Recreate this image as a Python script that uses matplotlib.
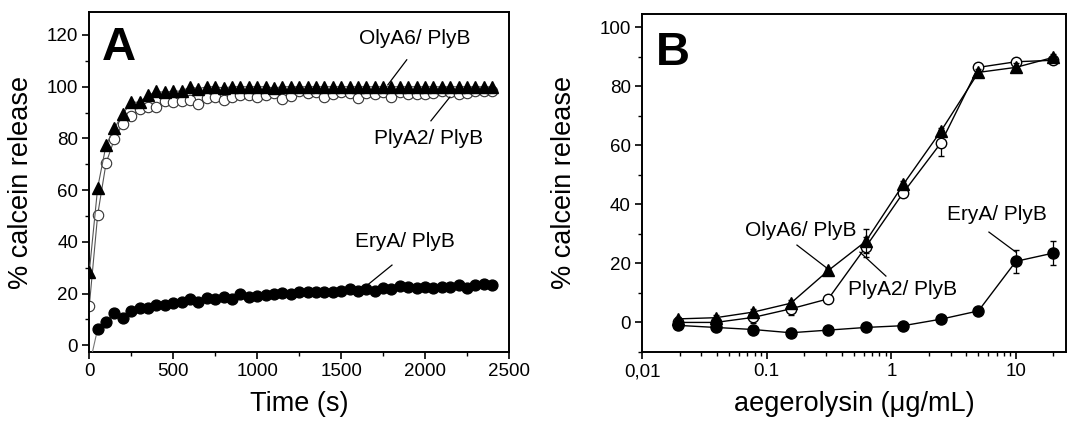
import matplotlib.pyplot as plt
import numpy as np

plt.rcParams['font.family'] = ['Liberation Sans', 'DejaVu Sans']

# ---- panel A: kinetics ----
time_s = list(range(0, 2401, 50))

olya6_t = [28.4, 61, 77.4, 84, 89.5, 94, 94, 96.6, 98.2, 97.8, 98.4, 98.2, 100, 99.2,
           100, 100, 99.5, 100, 100, 100, 100, 100, 99.5, 100, 100, 100, 100, 100,
           100, 100, 100, 100, 100, 100, 100, 100, 100, 100, 100, 100, 100, 100,
           100, 100, 100, 100, 100, 100, 100]
plya2_t = [15.2, 50.5, 70.5, 79.8, 85.7, 88.5, 91.3, 92, 92.3, 94.3, 94, 94.3, 95, 93.3,
           95.6, 96, 94.7, 96, 96.9, 96.9, 96, 96.9, 97.5, 95.2, 96.5, 98.2, 97.5, 97.8,
           96.2, 97.3, 97.8, 97.5, 95.8, 97.5, 97.3, 97.9, 96.2, 97.9, 97.3, 97.3, 97.3,
           97.5, 98.3, 97.8, 97.3, 97.5, 98.2, 98.2, 98.2]
erya_t = [-8, 6.4, 9, 12.3, 10.6, 13.2, 14.3, 14.3, 15.6, 15.6, 16.5, 16.9, 17.8, 16.9,
          18.2, 17.8, 18.7, 17.8, 19.7, 18.7, 19.1, 19.5, 19.7, 20.1, 19.7, 20.4, 20.6,
          20.6, 20.4, 20.4, 20.8, 21.7, 21, 21.7, 21, 22, 21.7, 23, 22.6, 22, 22.6, 22.3,
          22.7, 22.6, 23.3, 22.3, 23.3, 23.6, 23.2]

# ---- panel B: dose response ----
conc = [0.0195, 0.039, 0.078, 0.156, 0.3125, 0.625, 1.25, 2.5, 5, 10, 20]
olya6_c = [1.2, 1.6, 3.5, 6.5, 17.6, 27.5, 46.8, 64.8, 84.7, 86.4, 89.8]
olya6_err = [0.8, 0.8, 1, 1, 1, 4, 1, 1, 1, 1.5, 1]
plya2_c = [0, 0, 1.7, 4.6, 8, 25.6, 44, 60.8, 86.4, 88.3, 88.8]
plya2_err = [0.8, 0.8, 2, 2, 0.8, 3.5, 1.5, 4.5, 1, 1, 1]
erya_c = [-1, -1.7, -2.4, -3.5, -2.6, -1.7, -1.1, 1.1, 3.9, 20.7, 23.5]
erya_err = [0.5, 0.5, 0.5, 0.5, 0.5, 0.5, 0.5, 0.5, 0.5, 4, 4]

fig = plt.figure(figsize=(10.72, 4.22), dpi=100)
axA = fig.add_axes([0.0833, 0.166, 0.3915, 0.805])
axB = fig.add_axes([0.5989, 0.166, 0.3955, 0.801])

tick_fs = 13.5
label_fs = 19.5
ann_fs = 15

# panel A
axA.plot(time_s, plya2_t, '-', color='#555555', lw=0.8, marker='o', ms=7.5,
         mfc='white', mec='#333333', mew=0.8, zorder=2)
axA.plot(time_s, olya6_t, '-', color='#555555', lw=0.8, marker='^', ms=8.5,
         mfc='black', mec='black', zorder=3)
axA.plot(time_s, erya_t, '-', color='#777777', lw=0.8, marker='o', ms=7.8,
         mfc='black', mec='black', zorder=3)
axA.set_xlim(0, 2500)
axA.set_ylim(-2.6, 128.8)
axA.set_xticks([0, 500, 1000, 1500, 2000, 2500])
axA.set_xticks(np.arange(250, 2500, 500), minor=True)
axA.set_yticks([0, 20, 40, 60, 80, 100, 120])
axA.set_yticks(np.arange(10, 130, 20), minor=True)
axA.set_xlabel('Time (s)', fontsize=label_fs, labelpad=8)
axA.set_ylabel('% calcein release', fontsize=label_fs, labelpad=9)
axA.text(0.03, 0.859, 'A', transform=axA.transAxes, fontsize=34, fontweight='bold',
         va='baseline', ha='left')

axA.text(1939, 118.5, 'OlyA6/ PlyB', fontsize=ann_fs, ha='center', va='center')
axA.plot([1891, 1778], [110.4, 100.7], color='black', lw=0.9)
axA.text(2018, 80, 'PlyA2/ PlyB', fontsize=ann_fs, ha='center', va='center')
axA.plot([2035, 2148], [86.8, 96], color='black', lw=0.9)
axA.text(1881, 40.3, 'EryA/ PlyB', fontsize=ann_fs, ha='center', va='center')
axA.plot([1803, 1642], [31, 22.5], color='black', lw=0.9)

# panel B
axB.errorbar(conc, plya2_c, yerr=plya2_err, fmt='-o', color='black', lw=1,
             ms=7.5, mfc='white', mec='black', mew=1, elinewidth=0.9, capsize=2, zorder=2)
axB.errorbar(conc, olya6_c, yerr=olya6_err, fmt='-^', color='black', lw=1,
             ms=8.5, mfc='black', mec='black', elinewidth=0.9, capsize=2, zorder=3)
axB.errorbar(conc, erya_c, yerr=erya_err, fmt='-o', color='black', lw=1,
             ms=8, mfc='black', mec='black', elinewidth=0.9, capsize=2, zorder=3)
axB.set_xscale('log')
axB.set_xlim(0.01, 25.2)
axB.set_ylim(-10, 104.5)
axB.set_xticks([0.01, 0.1, 1, 10])
axB.set_xticklabels(['0,01', '0.1', '1', '10'])
axB.set_yticks([0, 20, 40, 60, 80, 100])
axB.set_yticks(np.arange(-10, 105, 20), minor=True)
axB.set_xlabel('aegerolysin (\u03bcg/mL)', fontsize=label_fs, labelpad=8)
axB.set_ylabel('% calcein release', fontsize=label_fs, labelpad=16)
axB.text(0.033, 0.849, 'B', transform=axB.transAxes, fontsize=34, fontweight='bold',
         va='baseline', ha='left')

axB.text(0.188, 31, 'OlyA6/ PlyB', fontsize=ann_fs, ha='center', va='center')
axB.plot([0.175, 0.304], [26.2, 18.4], color='black', lw=0.9)
axB.text(1.24, 11, 'PlyA2/ PlyB', fontsize=ann_fs, ha='center', va='center')
axB.plot([0.56, 0.905], [23.8, 15.7], color='black', lw=0.9)
axB.text(7.03, 36.7, 'EryA/ PlyB', fontsize=ann_fs, ha='center', va='center')
axB.plot([6.07, 10], [30.6, 23.8], color='black', lw=0.9)

for ax in (axA, axB):
    for s in ax.spines.values():
        s.set_linewidth(1.4)
    ax.tick_params(which='major', direction='out', length=5, width=1.2,
                   labelsize=tick_fs, top=False, right=False, pad=3)
    ax.tick_params(which='minor', direction='out', length=3, width=1.0,
                   top=False, right=False)
axB.tick_params(axis='x', which='minor', labelbottom=False)

fig.savefig('out.png', dpi=100)
